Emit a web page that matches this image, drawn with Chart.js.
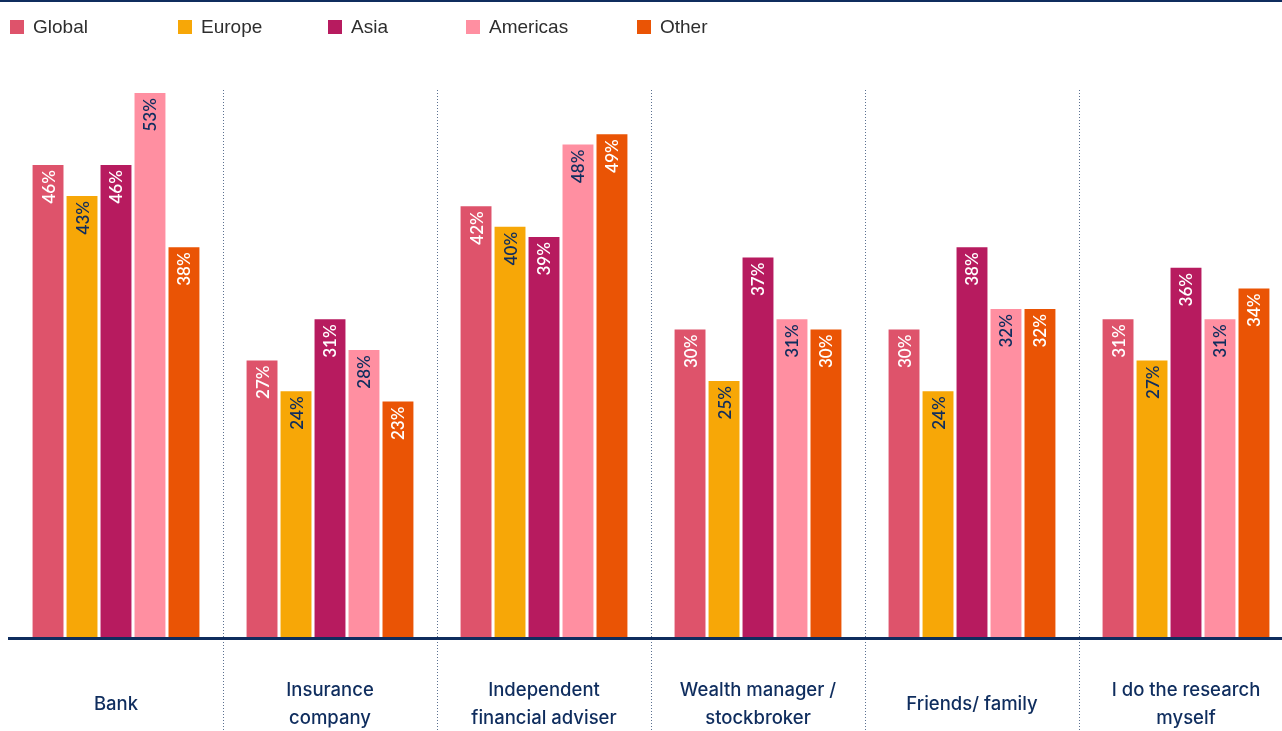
<!DOCTYPE html>
<html>
<head>
<meta charset="utf-8">
<script src="https://cdn.jsdelivr.net/npm/chart.js@4"></script>
<style>
  html, body { margin: 0; padding: 0; background: #fff; overflow: hidden; }
  #wrap { position: relative; width: 1300px; height: 731px; }
</style>
</head>
<body>
<div id="wrap"><canvas id="chart" width="1300" height="731"></canvas></div>
<script>
// --- data ---
const categories = [
	["Bank"],
	["Insurance", "company"],
	["Independent", "financial adviser"],
	["Wealth manager /", "stockbroker"],
	["Friends/ family"],
	["I do the research", "myself"],
];
const seriesNames = ["Global", "Europe", "Asia", "Americas", "Other"];
const globalValues = [46, 27, 42, 30, 30, 31];
const europeValues = [43, 24, 40, 25, 24, 27];
const asiaValues = [46, 31, 39, 37, 38, 36];
const americasValues = [53, 28, 48, 31, 32, 31];
const otherValues = [38, 23, 49, 30, 32, 34];

// --- styles ---
const NAVY = "#0f2d5e";
const colors = ["#de536b", "#f7a707", "#b71b5f", "#ff8fa1", "#ea5405"];
const labelColors = ["#ffffff", NAVY, "#ffffff", NAVY, "#ffffff"];
const legendX = [10, 178, 328, 466, 637];

const seriesValues = [globalValues, europeValues, asiaValues, americasValues, otherValues];

const decorPlugin = {
	id: "decor",
	beforeDraw(chart) {
		const { ctx } = chart;
		// top rule
		ctx.save();
		ctx.fillStyle = NAVY;
		ctx.fillRect(0, 0, chart.width, 2);

		// legend
		ctx.font = "19px 'Liberation Sans', Arial, sans-serif";
		ctx.textBaseline = "middle";
		seriesNames.forEach((name, i) => {
			ctx.fillStyle = colors[i];
			ctx.fillRect(legendX[i], 20, 14, 14);
			ctx.fillStyle = "#2e2e2e";
			ctx.fillText(name, legendX[i] + 23, 28);
		});
		ctx.restore();
	},
	afterDatasetsDraw(chart) {
		const { ctx, chartArea } = chart;
		const xs = chart.scales.x;
		ctx.save();

		// dotted separators between categories
		ctx.strokeStyle = "#5b7090";
		ctx.lineWidth = 1;
		ctx.setLineDash([1, 2]);
		for (let i = 1; i < categories.length; i++) {
			const x = Math.round((xs.getPixelForTick(i - 1) + xs.getPixelForTick(i)) / 2) + 0.5;
			ctx.beginPath();
			ctx.moveTo(x, chartArea.top);
			ctx.lineTo(x, chart.height);
			ctx.stroke();
		}
		ctx.setLineDash([]);

		// baseline
		ctx.fillStyle = NAVY;
		ctx.fillRect(chartArea.left - 1, chartArea.bottom - 1, chart.width, 3);

		// category labels
		ctx.font = "500 18.5px Inter, Roboto, sans-serif";
		ctx.fillStyle = NAVY;
		ctx.textAlign = "center";
		ctx.textBaseline = "middle";
		categories.forEach((lines, i) => {
			const x = xs.getPixelForTick(i);
			const y0 = chartArea.bottom + 66 - (lines.length - 1) * 14;
			lines.forEach((line, j) => ctx.fillText(line, x, y0 + j * 28));
		});

		// value labels inside bars, rotated
		ctx.font = "600 17px Lato, 'Noto Sans', sans-serif";
		ctx.textAlign = "right";
		chart.data.datasets.forEach((ds, di) => {
			const meta = chart.getDatasetMeta(di);
			meta.data.forEach((bar, i) => {
				ctx.save();
				ctx.translate(bar.x, bar.y + 5);
				ctx.rotate(-Math.PI / 2);
				ctx.fillStyle = labelColors[di];
				ctx.fillText(ds.data[i] + "%", 0, 1);
				ctx.restore();
			});
		});
		ctx.restore();
	},
};

new Chart(document.getElementById("chart"), {
	type: "bar",
	data: {
		labels: categories,
		datasets: seriesNames.map((name, i) => ({
			label: name,
			data: seriesValues[i],
			backgroundColor: colors[i],
			categoryPercentage: 0.794,
			barPercentage: 0.91,
		})),
	},
	options: {
		responsive: false,
		animation: false,
		layout: { padding: { left: 9, right: 7, top: 90, bottom: 0 } },
		plugins: { legend: { display: false }, tooltip: { enabled: false } },
		scales: {
			x: {
				grid: { display: false },
				border: { display: false },
				ticks: { display: false },
				afterFit: (s) => { s.height = 93; },
			},
			y: {
				display: false,
				min: 0,
				max: 53.3,
			},
		},
	},
	plugins: [decorPlugin],
});
</script>
</body>
</html>
